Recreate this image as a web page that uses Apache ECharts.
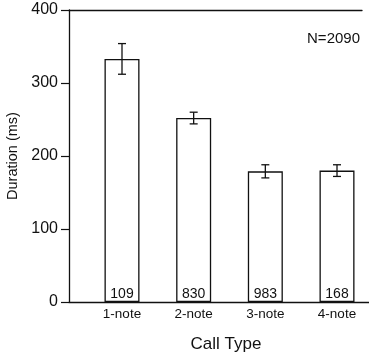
<!DOCTYPE html>
<html>
<head>
<meta charset="utf-8">
<script src="https://cdn.jsdelivr.net/npm/echarts@6/dist/echarts.min.js"></script>
<style>
  html, body { margin: 0; padding: 0; background: #fff; }
  #chart { width: 369px; height: 354px; }
</style>
</head>
<body>
<div id="chart"></div>
<script>
const categories = ['1-note', '2-note', '3-note', '4-note'];
const durations = [333, 252, 179, 180];
const errors = [21, 8, 9, 8];
const counts = [109, 830, 983, 168];
const yTicks = [0, 100, 200, 300, 400];

const font = 'Liberation Sans';
const ink = '#111';

const myChart = echarts.init(document.getElementById('chart'));

// x positions are category indices; range padded so bars sit where the figure has them
const catIdx = categories.map((c, i) => i);

const option = {
  animation: false,
  backgroundColor: '#fff',
  textStyle: { fontFamily: font, color: ink },
  title: {
    text: 'N=2090',
    right: 4,
    top: 26,
    textStyle: { fontFamily: font, fontSize: 15, fontWeight: 'normal', color: ink }
  },
  grid: [
    { left: 69, top: 10, width: 300, height: 292, outerBoundsMode: 'none' },
    // only carries the top frame line, which stops short of the right edge
    { left: 69, top: 10, width: 293, height: 292, outerBoundsMode: 'none' }
  ],
  xAxis: [
    {
      gridIndex: 0, type: 'value', min: -0.7395, max: 3.4465,
      axisLine: { show: true, onZero: false, lineStyle: { color: ink, width: 1.3 } },
      axisTick: { show: false },
      splitLine: { show: false },
      axisLabel: {
        customValues: catIdx,
        fontSize: 13.5, color: ink, margin: 5, fontFamily: font,
        formatter: v => categories[Math.round(v)] || ''
      },
      name: 'Call Type', nameLocation: 'middle', nameGap: 34,
      nameTextStyle: { fontSize: 17, color: ink, fontFamily: font, padding: [0, 0, 0, 14] }
    },
    {
      gridIndex: 1, type: 'value', position: 'top',
      axisLine: { show: true, onZero: false, lineStyle: { color: ink, width: 1.3 } },
      axisTick: { show: false }, axisLabel: { show: false }, splitLine: { show: false }
    }
  ],
  yAxis: [
    {
      gridIndex: 0, type: 'value', min: 0, max: 400, interval: 100,
      axisLine: { show: true, onZero: false, lineStyle: { color: ink, width: 1.3 } },
      axisTick: { show: true, length: 8, lineStyle: { color: ink, width: 1.2 } },
      axisLabel: {
        fontSize: 16, color: ink, margin: 11, fontFamily: font,
        formatter: v => yTicks.includes(v) ? String(v) : ''
      },
      splitLine: { show: false },
      name: 'Duration (ms)', nameLocation: 'middle', nameGap: 42,
      nameTextStyle: { fontSize: 14.5, color: ink, fontFamily: font }
    },
    {
      gridIndex: 1, type: 'value', min: 0, max: 400, show: false
    }
  ],
  series: [
    {
      type: 'bar',
      xAxisIndex: 0, yAxisIndex: 0,
      data: durations.map((d, i) => [catIdx[i], d]),
      barWidth: 35,
      itemStyle: { color: '#fff', borderColor: ink, borderWidth: 1.3 },
      label: {
        show: true, position: 'insideBottom', distance: 1,
        fontSize: 14, color: ink, fontFamily: font,
        formatter: p => String(counts[p.dataIndex])
      }
    },
    {
      type: 'custom',
      xAxisIndex: 0, yAxisIndex: 0,
      data: durations.map((d, i) => [catIdx[i], d - errors[i], d + errors[i]]),
      renderItem: (params, api) => {
        const lo = api.coord([api.value(0), api.value(1)]);
        const hi = api.coord([api.value(0), api.value(2)]);
        const cap = 4;
        const st = { stroke: ink, lineWidth: 1.3 };
        return {
          type: 'group',
          children: [
            { type: 'line', shape: { x1: lo[0], y1: lo[1], x2: hi[0], y2: hi[1] }, style: st },
            { type: 'line', shape: { x1: lo[0] - cap, y1: lo[1], x2: lo[0] + cap, y2: lo[1] }, style: st },
            { type: 'line', shape: { x1: hi[0] - cap, y1: hi[1], x2: hi[0] + cap, y2: hi[1] }, style: st }
          ]
        };
      },
      z: 5
    }
  ]
};

myChart.setOption(option);
</script>
</body>
</html>
